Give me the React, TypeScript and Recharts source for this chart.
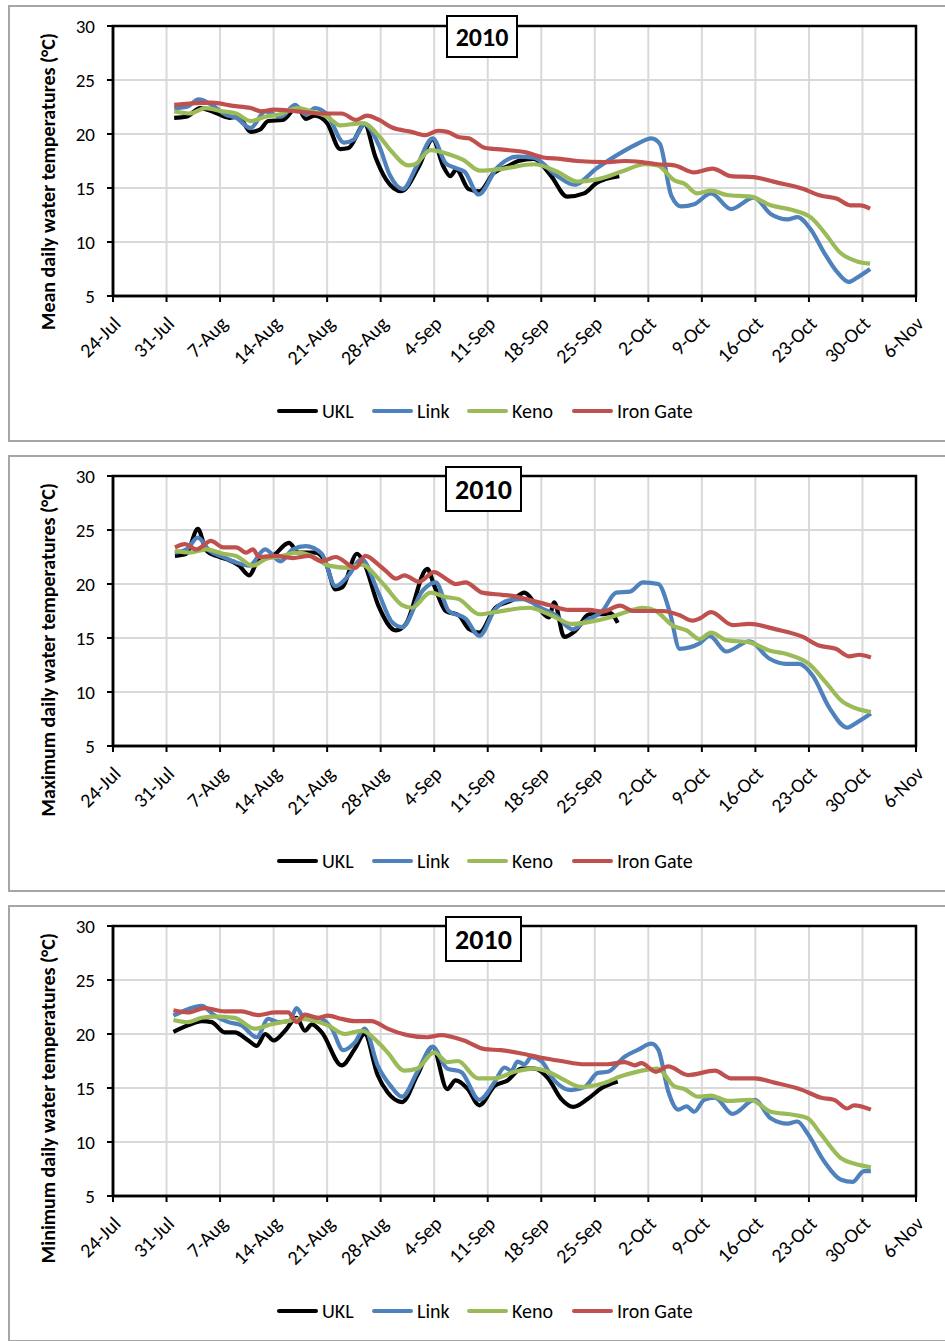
import React from 'react';
import { LineChart, Line, XAxis, YAxis, CartesianGrid, ReferenceArea, Legend } from 'recharts';

// Days counted from 24-Jul (day 0)
const tickDays = [0, 7, 14, 21, 28, 35, 42, 49, 56, 63, 70, 77, 84, 91, 98, 105];
const tickLabels = ['24-Jul', '31-Jul', '7-Aug', '14-Aug', '21-Aug', '28-Aug', '4-Sep', '11-Sep', '18-Sep', '25-Sep', '2-Oct', '9-Oct', '16-Oct', '23-Oct', '30-Oct', '6-Nov'];
const yTicks = [5, 10, 15, 20, 25, 30];
const seriesNames = ['UKL', 'Link', 'Keno', 'Iron Gate'];
const seriesColors = ['#000000', '#4F81BD', '#9BBB59', '#C0504D'];
const yLabels = ['Mean daily water temperatures (°C)', 'Maximum daily water temperatures (°C)', 'Minimum daily water temperatures (°C)'];
const yearLabel = '2010';

type P = [number, number][];

// ---- Mean ----
const meanUKL: P = [[8,21.5],[9.6,21.6],[11.4,22.4],[13.3,22.0],[15.2,21.5],[16.4,21.6],[18,20.2],[19.2,20.4],[20.3,21.2],[22.2,21.3],[24.1,22.5],[25.2,21.4],[26.4,21.7],[28,21.0],[29.7,18.6],[30.8,18.7],[32.9,20.9],[34.3,17.9],[35.7,15.8],[37.7,14.7],[40,17.0],[41.8,19.5],[43.2,17.0],[44.1,16.1],[44.9,16.7],[46.5,14.9],[47.9,14.7],[49.8,16.4],[51.6,17.0],[53,17.5],[55,17.7],[57.2,16.2],[59.4,14.2],[61.6,14.5],[63.3,15.5],[64.3,15.8],[66.2,16.1]];
const meanLink: P = [[8,22.4],[9.6,22.5],[11.2,23.2],[12.9,22.7],[14.7,21.8],[16.1,21.5],[18,20.55],[19.9,22.1],[22,21.6],[23.8,22.7],[25.2,21.8],[26.4,22.4],[28,21.8],[30.2,19.2],[31.5,19.5],[32.9,20.9],[34.8,18.9],[36.2,16.2],[37.9,14.9],[39.7,17.0],[41.8,19.6],[43.5,17.3],[45,16.8],[46,16.5],[47.8,14.4],[50.2,16.85],[52.8,17.9],[55,17.8],[58.1,16.1],[60.3,15.3],[63.3,16.85],[66.5,18.3],[68.6,19.1],[70.4,19.6],[71.5,19.1],[73,14.3],[74.3,13.3],[76,13.5],[78.2,14.5],[80.8,13.05],[83.8,14.1],[86,12.6],[88.2,12.1],[89.5,12.3],[91.2,11.2],[93,9.0],[94.7,7.2],[96.2,6.3],[97.3,6.7],[99,7.5]];
const meanKeno: P = [[8,22.1],[10,21.9],[12.1,22.4],[14.3,22.1],[16.1,21.9],[18,21.2],[19.9,21.6],[21.7,21.8],[24.1,22.4],[25.9,22.1],[28,21.6],[29.7,20.8],[31.1,20.9],[32.7,21.0],[34.8,19.8],[36.4,18.4],[38.6,17.1],[39.5,17.2],[41.5,18.5],[44,18.1],[45.8,17.6],[48,16.6],[51.1,16.8],[55,17.2],[58.1,16.5],[60.7,15.6],[63.3,15.8],[66.8,16.6],[69.5,17.2],[71.2,17.1],[73.4,15.7],[74.7,15.4],[76.4,14.5],[78.2,14.75],[80.3,14.35],[83.4,14.2],[86,13.4],[88.6,13.0],[91.2,12.3],[93,10.9],[95.1,9.0],[97.3,8.2],[99,8.0]];
const meanIron: P = [[8,22.7],[12.9,22.9],[15.7,22.6],[18,22.4],[19.4,22.1],[21,22.25],[24,22.1],[27.3,21.9],[29.9,21.9],[31.8,21.3],[33.2,21.7],[34.8,21.3],[36.5,20.6],[39,20.2],[40.9,19.9],[42.5,20.3],[43.7,20.2],[45.3,19.7],[46.5,19.6],[48.7,18.7],[51,18.55],[54,18.3],[56.5,17.8],[58.5,17.7],[60.7,17.5],[64.2,17.4],[66.9,17.5],[69.1,17.4],[71.2,17.2],[73.4,17.1],[76,16.45],[78.4,16.8],[80.8,16.1],[83.8,16.0],[86.9,15.5],[90.3,14.9],[92.5,14.3],[94.7,14.0],[96.4,13.4],[97.7,13.4],[99,13.1]];

// ---- Maximum ----
const maxUKL: P = [[8.1,22.6],[9.6,22.8],[11.1,25.1],[12.2,23.1],[13.5,22.6],[14.8,22.3],[16.5,21.7],[17.8,20.8],[19.1,22.3],[20.9,22.6],[23,23.8],[24.3,22.9],[26.5,22.9],[27.8,22.0],[29.1,19.5],[30,19.7],[31.9,22.8],[32.8,22.0],[34.7,18.0],[37,15.7],[38.3,16.3],[41.1,21.4],[42,19.85],[43.5,17.5],[45.2,17.1],[46.6,15.8],[47.9,15.5],[50,17.8],[52.2,18.5],[53.8,19.2],[55.3,18.1],[57,16.9],[57.7,18.3],[59,15.1],[60.5,15.7],[62.3,17.2],[64,17.2],[65,17.3],[66,16.4]];
const maxLink: P = [[8.1,22.9],[9.6,23.2],[11.1,24.3],[12.6,23.1],[14.4,22.5],[16.1,22.0],[17.8,21.7],[19.9,23.2],[21.9,22.1],[23.5,23.2],[25.2,23.5],[27.3,22.8],[29.1,19.8],[30.8,20.8],[32.5,22.3],[34.7,19.2],[36.5,16.45],[37.8,16.0],[40.5,19.4],[42.2,20.15],[43.9,17.5],[46.1,16.8],[47.9,15.2],[50,17.7],[51.8,18.5],[53.5,18.6],[56.2,17.7],[57.9,17.1],[60.1,15.8],[61.8,16.6],[64,17.5],[65.8,19.2],[67.6,19.3],[69.3,20.15],[71.3,20.0],[72.8,17.4],[74.1,14.0],[76.7,14.5],[78,15.2],[80.2,13.75],[83.2,14.7],[85.8,13.1],[88,12.6],[89.7,12.6],[91.5,11.5],[93.7,8.5],[96,6.7],[97.1,7.1],[99.1,8.0]];
const maxKeno: P = [[8.1,23.1],[10,22.9],[12.2,23.2],[14.4,22.8],[16.1,22.6],[18.3,21.7],[19.9,22.3],[22.2,22.6],[23.9,22.9],[26,22.6],[28.2,21.7],[30.8,21.5],[32.5,21.8],[34.7,20.5],[35.7,19.7],[37.8,18.05],[39.1,17.8],[41.5,19.2],[43.5,18.8],[45.2,18.6],[47.9,17.2],[50,17.4],[54.4,17.8],[57,17.2],[60.1,16.3],[63.1,16.6],[64.9,16.9],[67.5,17.5],[69.3,17.8],[71,17.5],[73.2,16.15],[75,15.7],[76.7,14.9],[78.2,15.5],[80.2,14.8],[83.2,14.6],[85.8,13.85],[88.4,13.45],[91,12.6],[93.2,10.9],[95.4,9.1],[97.1,8.5],[99.1,8.15]];
const maxIron: P = [[8.1,23.4],[9.4,23.7],[10.9,23.2],[12.8,24.0],[14.4,23.4],[16.1,23.4],[17.4,22.9],[18.3,23.2],[19.1,22.5],[21.3,22.6],[23.5,22.4],[25.6,22.6],[27.3,22.1],[29.1,22.5],[31.7,21.5],[33,22.6],[34.7,21.8],[35.7,21.2],[37,20.5],[38.1,20.8],[40,20.2],[42,21.1],[43.5,20.5],[44.8,20.0],[46.1,20.15],[48.3,19.2],[50.9,19.0],[52.2,18.9],[54,18.6],[57,18.05],[59.6,17.6],[62.3,17.6],[64,17.45],[66.3,18.0],[68,17.5],[71.9,17.5],[74.1,17.1],[75.8,16.6],[76.7,16.8],[78.2,17.4],[81,16.2],[83.2,16.3],[86.7,15.8],[90.2,15.1],[92.3,14.3],[94.5,14.0],[96.3,13.3],[97.6,13.45],[99.1,13.2]];

// ---- Minimum ----
const minUKL: P = [[7.9,20.2],[9.8,20.8],[11.6,21.2],[12.9,21.1],[14.6,20.15],[15.9,20.15],[17.7,19.4],[18.8,18.9],[19.9,20.0],[21,19.4],[22.5,20.3],[24,21.5],[25.1,20.3],[26,20.9],[27.3,20.15],[29.9,17.1],[31.6,18.6],[32.9,20.0],[34.6,16.2],[35.9,14.6],[37.8,13.7],[39.8,16.2],[41.8,18.8],[43.7,14.9],[44.8,15.7],[46.4,14.9],[47.9,13.4],[49.9,15.2],[51.6,15.7],[53.4,16.8],[55.1,16.8],[56.9,15.9],[58.6,14.0],[60.2,13.25],[62.1,14.0],[63.9,15.0],[66,15.6]];
const minLink: P = [[7.9,21.7],[9.8,22.3],[11.6,22.6],[13.3,21.7],[15.1,21.1],[16.8,20.8],[18.8,19.7],[20.3,21.4],[21.6,21.1],[23.1,21.2],[24,22.4],[25.1,21.4],[26.8,21.5],[28.6,20.5],[30.1,18.5],[31.6,19.2],[32.9,20.5],[34.6,17.1],[36.3,15.2],[37.8,14.2],[39.8,16.5],[41.8,18.8],[43.7,16.8],[45.5,16.5],[47.9,13.9],[49.9,15.55],[51.2,16.9],[52.1,16.6],[52.9,17.45],[53.8,17.2],[54.7,17.85],[56,17.5],[57.7,15.7],[59.9,14.8],[61.7,15.1],[63.4,16.4],[64.7,16.5],[66.9,17.9],[68.7,18.55],[70.4,19.1],[71.3,18.55],[72.6,14.7],[73.9,13.0],[75,13.3],[76,12.8],[77.3,13.9],[78.7,14.1],[81,12.6],[83.9,13.9],[86,12.2],[88.2,11.7],[89.5,11.9],[90.8,10.8],[93,8.2],[95.2,6.5],[96.7,6.3],[98.2,7.3],[99.1,7.3]];
const minKeno: P = [[7.9,21.3],[9.8,21.1],[11.6,21.5],[13.3,21.6],[15.9,21.5],[18.5,20.5],[20.7,20.9],[22.9,21.2],[24.6,21.4],[26.4,21.2],[28.1,20.8],[30.3,20.0],[32.5,20.3],[34.7,19.2],[35.9,18.3],[38.1,16.6],[39.8,16.8],[42,18.3],[43.7,17.4],[45.1,17.5],[47.7,15.9],[49.9,15.9],[52.5,16.5],[55.1,16.8],[56.9,16.5],[58.6,15.9],[61.2,15.1],[63.9,15.4],[66.5,16.1],[69.9,16.7],[71.2,16.8],[73.4,15.15],[74.7,14.9],[76.5,14.2],[78.2,14.3],[80.4,13.8],[83.4,13.9],[86,12.8],[89.1,12.5],[90.8,12.2],[92.6,10.7],[95.2,8.5],[96.9,8.0],[99.1,7.65]];
const minIron: P = [[7.9,22.2],[9.8,22.0],[12,22.4],[14.6,22.1],[16.8,22.1],[19,21.75],[21.2,22.0],[22.9,22.0],[24,21.1],[25.1,21.8],[26.8,21.5],[28.1,21.7],[29.9,21.4],[31.6,21.2],[33.8,21.2],[35.9,20.5],[38.5,19.9],[41.1,19.7],[42.9,19.9],[45.9,19.4],[48.6,18.6],[50.7,18.5],[53.4,18.2],[56,17.8],[58.6,17.5],[61.7,17.2],[64.7,17.2],[66.9,17.4],[68.2,17.1],[69.1,17.3],[71,16.5],[72.6,17.0],[75.2,16.2],[78.7,16.6],[80.8,15.9],[83.9,15.9],[86.5,15.5],[90,14.85],[92.6,14.1],[94.3,13.9],[96,13.1],[96.9,13.4],[99.1,13.0]];

const panelsSeries: P[][] = [
  [meanUKL, meanLink, meanKeno, meanIron],
  [maxUKL, maxLink, maxKeno, maxIron],
  [minUKL, minLink, minKeno, minIron],
];

const FONT = 'Carlito, Lato, "Open Sans", sans-serif';
const W = 945;
const H = 440;
const STEP = 450;
const legendItemWidths = [95, 95, 105, 130];

const toPts = (arr: P) => arr.map(([d, v]) => ({ d, v }));

function XTick(props: any) {
  const { x, y, payload } = props;
  const i = tickDays.indexOf(payload.value);
  const ax = x + 4;
  const ay = y + 16;
  return (
    <text x={ax} y={ay} dy="0.35em" textAnchor="end" transform={`rotate(-45 ${ax} ${ay})`}
      fill="#000" fontSize={20} fontFamily={FONT}>
      {i >= 0 ? tickLabels[i] : ''}
    </text>
  );
}

function LegendContent() {
  return (
    <div style={{ display: 'flex', alignItems: 'center', paddingLeft: 277, height: 22, fontFamily: FONT, fontSize: 20, color: '#000' }}>
      {seriesNames.map((n, i) => (
        <div key={n} style={{ display: 'flex', alignItems: 'center', width: legendItemWidths[i], flex: 'none' }}>
          <span style={{ display: 'inline-block', width: 41, height: 4, background: seriesColors[i], borderRadius: 2 }} />
          <span style={{ marginLeft: 4, whiteSpace: 'nowrap' }}>{n}</span>
        </div>
      ))}
    </div>
  );
}

function Panel({ idx }: { idx: number }) {
  const top = idx * STEP;
  const series = panelsSeries[idx];
  const titleBox = idx === 0 ? { x: 447, y: 16, w: 70, h: 41, fs: 26 } : { x: 446, y: 17, w: 75, h: 44, fs: 28 };
  return (
    <>
      <div style={{ position: 'absolute', left: 8, top: top + 5, width: 960, height: 437, borderTop: '2px solid #a6a6a6', borderLeft: '2px solid #a6a6a6', borderBottom: '2px solid #a6a6a6', boxSizing: 'border-box', background: '#fff' }} />
      <div style={{ position: 'absolute', left: 0, top, width: W, height: H }}>
        <LineChart width={W} height={H} margin={{ top: 26, right: 29, bottom: 84, left: 60 }}>
          <CartesianGrid stroke="#d9d9d9" strokeWidth={2} />
          <XAxis type="number" dataKey="d" domain={[0, 105]} ticks={tickDays} interval={0} height={60}
            tickSize={6} axisLine={{ stroke: '#000', strokeWidth: 2.5 }} tickLine={{ stroke: '#000', strokeWidth: 2 }}
            tick={<XTick />} allowDataOverflow />
          <YAxis type="number" domain={[5, 30]} ticks={yTicks} interval={0} width={53} tickSize={6} tickMargin={12}
            axisLine={{ stroke: '#000', strokeWidth: 2.5 }} tickLine={{ stroke: '#000', strokeWidth: 2 }}
            tick={{ fill: '#000', fontSize: 19, fontFamily: FONT }} allowDataOverflow />
          <ReferenceArea x1={0} x2={105} y1={5} y2={30} fill="none" stroke="#000" strokeWidth={2.5} />
          {series.map((s, i) => (
            <Line key={seriesNames[i]} data={toPts(s)} dataKey="v" name={seriesNames[i]} type="monotone"
              stroke={seriesColors[i]} strokeWidth={4.2} dot={false} activeDot={false} isAnimationActive={false} />
          ))}
          <Legend verticalAlign="middle" align="center" layout="horizontal" content={<LegendContent />}
            wrapperStyle={{ position: 'absolute', top: 400, left: 0, width: W, height: 22 }} />
        </LineChart>
      </div>
      <svg style={{ position: 'absolute', left: 0, top, pointerEvents: 'none' }} width={W} height={H}>
        <text x={48} y={33} transform="rotate(-90 48 33)" textAnchor="end" dominantBaseline="central"
          fontWeight="bold" fontSize={20} fontFamily={FONT} fill="#000">{yLabels[idx]}</text>
        <rect x={titleBox.x} y={titleBox.y} width={titleBox.w} height={titleBox.h} fill="#fff" stroke="#000" strokeWidth={2} />
        <text x={titleBox.x + titleBox.w / 2} y={titleBox.y + titleBox.h / 2} textAnchor="middle" dominantBaseline="central"
          fontWeight="bold" fontSize={titleBox.fs} fontFamily={FONT} fill="#000">{yearLabel}</text>
      </svg>
    </>
  );
}

export default function App() {
  return (
    <div style={{ position: 'relative', width: W, height: 1341, overflow: 'hidden', background: '#fff' }}>
      <style>{'html,body{margin:0;padding:0;overflow:hidden;}'}</style>
      {[0, 1, 2].map((i) => <Panel key={i} idx={i} />)}
    </div>
  );
}
